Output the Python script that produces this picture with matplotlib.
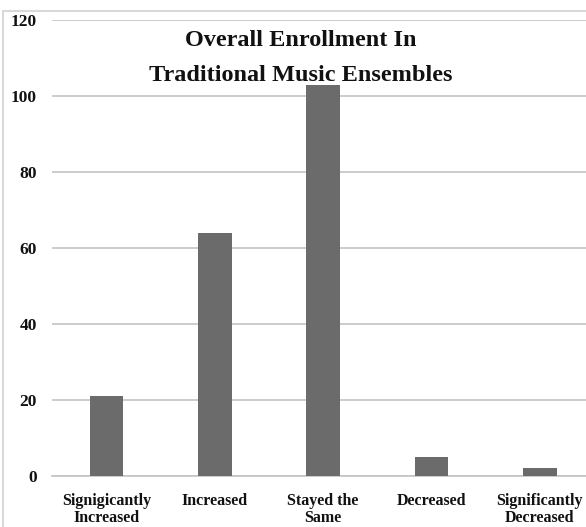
import matplotlib
matplotlib.use("Agg")
import matplotlib.pyplot as plt
from matplotlib.patches import Rectangle

categories = ["Signigicantly\nIncreased", "Increased", "Stayed the\nSame",
              "Decreased", "Significantly\nDecreased"]
values = [21, 64, 103, 5, 2]
y_ticks = [0, 20, 40, 60, 80, 100, 120]
title = "Overall Enrollment In\nTraditional Music Ensembles"

W, H = 586, 527
fig = plt.figure(figsize=(W / 100, H / 100), dpi=100)
plt.rcParams["font.family"] = ["Liberation Serif", "DejaVu Serif"]

# plot area in pixel terms, converted to figure fractions
left_px, right_px, top_px, bottom_px = 52.3, 594.0, 20.0, 476.0
ax = fig.add_axes([left_px / W, (H - bottom_px) / H,
                   (right_px - left_px) / W, (bottom_px - top_px) / H])

x = list(range(len(categories)))
ax.bar(x, values, width=0.31, color="#6b6b6b", zorder=3)

ax.set_xlim(-0.5, len(categories) - 0.5)
ax.set_ylim(0, 120)
ax.set_yticks(y_ticks)
ax.set_yticklabels([str(t) for t in y_ticks], fontsize=12.5, fontweight="bold",
                   color="#111111")
ax.set_xticks(x)
ax.set_xticklabels(categories, fontsize=11.5, fontweight="bold", color="#111111",
                   linespacing=1.12)
ax.tick_params(axis="y", length=0, pad=11)
ax.tick_params(axis="x", length=0, pad=12)
ax.yaxis.grid(True, color="#c4c4c4", linewidth=1.2, zorder=0)
ax.set_axisbelow(True)
for s in ax.spines.values():
    s.set_visible(False)
ax.spines["bottom"].set_visible(True)
ax.spines["bottom"].set_color("#c4c4c4")
ax.spines["bottom"].set_linewidth(1.2)

fig.text(301 / W, 1 - 58 / H, title, ha="center", va="center",
         fontsize=17.5, fontweight="bold", color="#111111", linespacing=1.85)

# outer chart frame
fig.patches.append(Rectangle((2.5 / W, -0.1), 1.2, 1 - 10.5 / H + 0.1,
                             transform=fig.transFigure, fill=False,
                             edgecolor="#d9d9d9", linewidth=1.5))

fig.savefig("out.png", dpi=100)
